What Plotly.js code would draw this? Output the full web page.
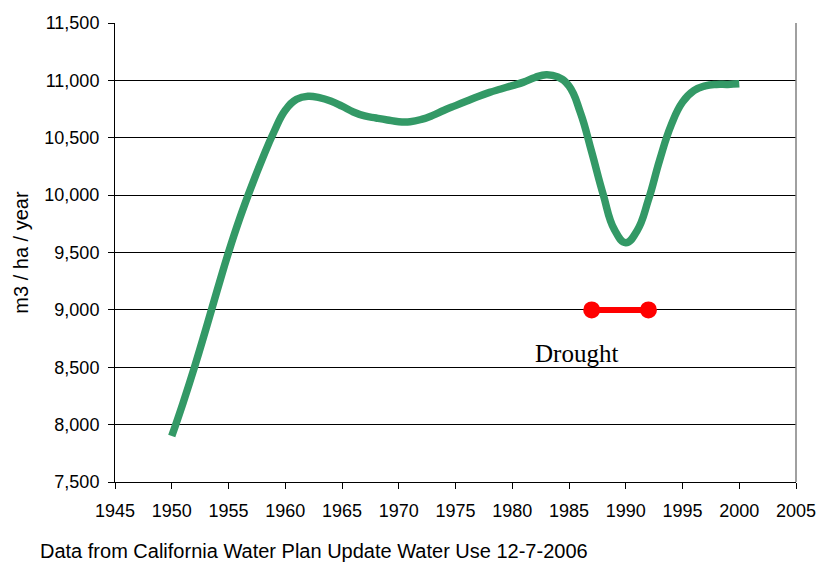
<!DOCTYPE html>
<html>
<head>
<meta charset="utf-8">
<script src="https://cdn.plot.ly/plotly-3.0.1.min.js"></script>
<style>html,body{margin:0;padding:0;background:#fff;}#chart{width:817px;height:563px;}</style>
</head>
<body>
<div id="chart"></div>
<script>
var years = [1950,1951,1952,1953,1954,1955,1956,1957,1958,1959,1960,1961,1962,1963,1964,1965,1966,1967,1968,1969,1970,1971,1972,1973,1974,1975,1976,1977,1978,1979,1980,1981,1982,1983,1984,1985,1986,1987,1988,1989,1990,1991,1992,1993,1994,1995,1996,1997,1998,1999,2000];
var waterUse = [7900,8190,8500,8830,9170,9500,9800,10070,10320,10550,10740,10835,10862,10850,10820,10775,10725,10690,10672,10655,10640,10640,10660,10695,10740,10780,10820,10860,10895,10925,10955,10985,11025,11050,11030,10950,10720,10375,10010,9700,9585,9690,9960,10310,10610,10810,10910,10952,10965,10965,10970];
var droughtYears = [1987, 1992];
var droughtLevel = [9000, 9000];
var xTicks = [1945,1950,1955,1960,1965,1970,1975,1980,1985,1990,1995,2000,2005];
var yTicks = [7500,8000,8500,9000,9500,10000,10500,11000,11500];
var yTickText = ["7,500","8,000","8,500","9,000","9,500","10,000","10,500","11,000","11,500"];

var traces = [
  {x: years, y: waterUse, mode: 'lines', type: 'scatter',
   line: {color: '#339966', width: 7.5, shape: 'spline', smoothing: 1.3}, hoverinfo: 'none'},
  {x: droughtYears, y: droughtLevel, mode: 'lines+markers', type: 'scatter',
   line: {color: '#FF0000', width: 6}, marker: {color: '#FF0000', size: 17}, hoverinfo: 'none'}
];

var layout = {
  width: 817, height: 563,
  margin: {l: 115, r: 21, t: 23, b: 81},
  paper_bgcolor: '#ffffff', plot_bgcolor: '#ffffff',
  showlegend: false,
  font: {family: 'Liberation Sans, Arial, sans-serif', size: 18, color: '#000'},
  xaxis: {
    range: [1945, 2005], tickmode: 'array', tickvals: xTicks, ticktext: xTicks.map(String),
    showgrid: false, zeroline: false, showline: true, linecolor: '#000', linewidth: 1,
    ticks: 'outside', ticklen: 6, tickcolor: '#000', tickfont: {size: 18},
    ticklabelstandoff: 6
  },
  yaxis: {
    range: [7500, 11500], tickmode: 'array', tickvals: yTicks, ticktext: yTickText,
    showgrid: true, gridcolor: '#000', gridwidth: 1, zeroline: false,
    showline: true, linecolor: '#000', linewidth: 1,
    ticks: 'outside', ticklen: 6, tickcolor: '#000', tickfont: {size: 18},
    ticklabelstandoff: 5,
    title: {text: 'm3 / ha / year', font: {size: 20}, standoff: 10}
  },
  shapes: [
    {type: 'line', xref: 'paper', yref: 'paper', x0: 1, x1: 1, y0: 0, y1: 1,
     line: {color: '#808080', width: 1.5}}
  ],
  annotations: [
    {text: 'Drought', x: 1985.7, y: 8617, xref: 'x', yref: 'y', showarrow: false,
     xanchor: 'center', yanchor: 'middle',
     font: {family: 'Liberation Serif, Times New Roman, serif', size: 25, color: '#000'}},
    {text: 'Data from California Water Plan Update Water Use 12-7-2006',
     xref: 'paper', yref: 'paper', x: -0.1131, y: -0.15, xanchor: 'left', yanchor: 'middle',
     showarrow: false, font: {size: 20, color: '#000'}}
  ]
};

Plotly.newPlot('chart', traces, layout, {displayModeBar: false, staticPlot: true});
</script>
</body>
</html>
